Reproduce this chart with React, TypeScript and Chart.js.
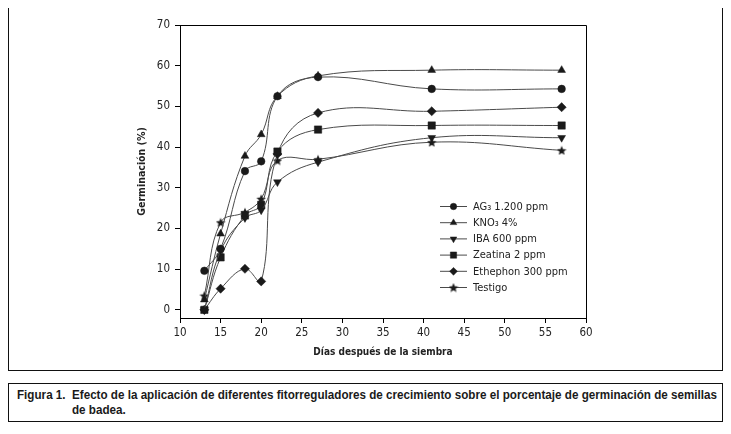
import React, { useEffect, useMemo, useRef } from "react";
import { Chart, registerables } from "chart.js";
import { drawPoint } from "chart.js/helpers";

Chart.register(...registerables);

const days = [13, 15, 18, 20, 22, 27, 41, 57];
const ag3 = [9.6, 15, 34.1, 36.5, 52.5, 57.2, 54.3, 54.3];
const kno3 = [2.5, 18.7, 37.8, 43.1, 52.5, 57.5, 58.9, 58.9];
const iba = [0, 14.5, 22.6, 24.5, 31.4, 36.3, 42.3, 42.3];
const zeatina = [0, 12.9, 23.2, 25.8, 38.9, 44.3, 45.3, 45.3];
const ethephon = [0, 5.2, 10.1, 7.0, 38.3, 48.4, 48.8, 49.8];
const testigo = [3.5, 21.5, 24, 27.3, 36.7, 37.0, 41.2, 39.2];

const seriesLabels = ["AG₃ 1.200 ppm", "KNO₃ 4%", "IBA 600 ppm", "Zeatina 2 ppm", "Ethephon 300 ppm", "Testigo"];
const xTicks = [10, 15, 20, 25, 30, 35, 40, 45, 50, 55, 60];
const yTicks = [0, 10, 20, 30, 40, 50, 60, 70];

const captionLabel = "Figura 1.";
const captionLine1 =
  "Efecto de la aplicación de diferentes fitorreguladores de crecimiento sobre el porcentaje de germinación de semillas";
const captionLine2 = "de badea.";

const FONT = "'DejaVu Sans Condensed', 'Liberation Sans', Arial, sans-serif";
const CAP_FONT = "'Liberation Sans', Arial, sans-serif";
const INK = "#1a1a1a";
const LINE = "#4a4a4a";

function makeStar(size: number): HTMLCanvasElement {
  const c = document.createElement("canvas");
  c.width = size;
  c.height = size;
  const ctx = c.getContext("2d")!;
  const cx = size / 2, cy = size / 2 + 0.5;
  const R = size / 2, r = R * 0.45;
  ctx.beginPath();
  for (let i = 0; i < 10; i++) {
    const rad = (Math.PI / 5) * i - Math.PI / 2;
    const rr = i % 2 === 0 ? R : r;
    const px = cx + rr * Math.cos(rad);
    const py = cy + rr * Math.sin(rad);
    if (i === 0) ctx.moveTo(px, py);
    else ctx.lineTo(px, py);
  }
  ctx.closePath();
  ctx.fillStyle = INK;
  ctx.fill();
  return c;
}

export default function App() {
  const ref = useRef<HTMLCanvasElement | null>(null);

  const capScale = useMemo(() => {
    const c = document.createElement("canvas").getContext("2d")!;
    c.font = `bold 13px ${CAP_FONT}`;
    const w = c.measureText(captionLine1).width;
    return w > 0 ? 645 / w : 0.8;
  }, []);

  useEffect(() => {
    if (!ref.current) return;
    const star = makeStar(10);
    const series = [ag3, kno3, iba, zeatina, ethephon, testigo];
    const styles: any[] = [
      { pointStyle: "circle", pointRadius: 3.8, pointRotation: 0 },
      { pointStyle: "triangle", pointRadius: 4.5, pointRotation: 0 },
      { pointStyle: "triangle", pointRadius: 4.5, pointRotation: 180 },
      { pointStyle: "rect", pointRadius: 5.2, pointRotation: 0 },
      { pointStyle: "rectRot", pointRadius: 4.6, pointRotation: 0 },
      { pointStyle: star, pointRadius: 5, pointRotation: 0 },
    ];

    const datasets = series.map((vals, i) => ({
      label: seriesLabels[i],
      data: days.map((d, j) => ({ x: d, y: vals[j] })),
      borderColor: LINE,
      borderWidth: 1,
      backgroundColor: INK,
      pointBackgroundColor: INK,
      pointBorderColor: INK,
      pointBorderWidth: 0.5,
      tension: 0.4,
      ...styles[i],
    }));

    const framePlugin = {
      id: "frame",
      afterDraw(chart: any) {
        const { ctx, chartArea } = chart;
        ctx.save();
        ctx.strokeStyle = "#000";
        ctx.lineWidth = 1;
        ctx.beginPath();
        ctx.moveTo(chartArea.left, chartArea.top + 0.5);
        ctx.lineTo(chartArea.right + 0.5, chartArea.top + 0.5);
        ctx.lineTo(chartArea.right + 0.5, chartArea.bottom);
        ctx.stroke();
        ctx.restore();
      },
    };

    const legendPlugin = {
      id: "innerLegend",
      afterDraw(chart: any) {
        const { ctx, chartArea } = chart;
        const x0 = chartArea.left + 260;
        const y0 = chartArea.top + 181;
        const step = 16.2;
        ctx.save();
        chart.data.datasets.forEach((ds: any, i: number) => {
          const y = y0 + i * step;
          ctx.strokeStyle = LINE;
          ctx.lineWidth = 1;
          ctx.beginPath();
          ctx.moveTo(x0, y + 0.5);
          ctx.lineTo(x0 + 27, y + 0.5);
          ctx.stroke();
          ctx.fillStyle = INK;
          ctx.strokeStyle = INK;
          ctx.lineWidth = 0.5;
          drawPoint(
            ctx,
            {
              pointStyle: ds.pointStyle,
              rotation: ds.pointRotation,
              radius: ds.pointRadius * 0.85,
              borderWidth: 0.5,
            } as any,
            x0 + 13.5,
            y + 0.5
          );
          ctx.fillStyle = "#222";
          ctx.font = `11px ${FONT}`;
          ctx.textBaseline = "middle";
          ctx.textAlign = "left";
          ctx.fillText(ds.label, x0 + 33, y + 1);
        });
        ctx.restore();
      },
    };

    const chart = new Chart(ref.current, {
      type: "line",
      data: { datasets },
      options: {
        animation: false,
        responsive: false,
        layout: { padding: { left: 121, right: 136, top: 17, bottom: 11 } },
        plugins: { legend: { display: false }, tooltip: { enabled: false } },
        scales: {
          x: {
            type: "linear",
            min: 10,
            max: 60,
            afterBuildTicks: (scale: any) => {
              scale.ticks = xTicks.map((v) => ({ value: v }));
            },
            afterFit: (scale: any) => {
              scale.height = 41;
            },
            grid: { drawOnChartArea: false, drawTicks: true, tickLength: 5, color: "#000" },
            border: { display: true, color: "#000", width: 1 },
            ticks: { color: "#222", padding: 3, font: { family: FONT, size: 11.5 }, maxRotation: 0 },
            title: {
              display: true,
              text: "Días después de la siembra",
              color: "#222",
              font: { family: FONT, size: 10, weight: "bold" },
              padding: { top: 0, bottom: 1 },
            },
          },
          y: {
            type: "linear",
            min: -2,
            max: 70,
            afterBuildTicks: (scale: any) => {
              scale.ticks = yTicks.map((v) => ({ value: v }));
            },
            afterFit: (scale: any) => {
              scale.width = 50;
            },
            grid: { drawOnChartArea: false, drawTicks: true, tickLength: 5, color: "#000" },
            border: { display: true, color: "#000", width: 1 },
            ticks: { color: "#222", padding: 5, font: { family: FONT, size: 11.5 } },
            title: {
              display: true,
              text: "Germinación (%)",
              color: "#222",
              font: { family: FONT, size: 10.5, weight: "bold" },
              padding: { top: 6, bottom: 0 },
            },
          },
        },
      } as any,
      plugins: [framePlugin, legendPlugin],
    });
    return () => chart.destroy();
  }, []);

  const spanStyle = (left: number, top: number): React.CSSProperties => ({
    position: "absolute",
    left,
    top,
    whiteSpace: "nowrap",
    transform: `scaleX(${capScale})`,
    transformOrigin: "left top",
  });

  return (
    <div style={{ width: 715 }}>
      <div
        style={{
          position: "relative",
          width: 715,
          height: 364,
          border: "1px solid #111",
          boxSizing: "border-box",
          marginTop: -1,
        }}
      >
        <canvas ref={ref} width={713} height={362} style={{ display: "block", width: 713, height: 362 }} />
      </div>
      <div
        style={{
          position: "relative",
          marginTop: 12,
          width: 715,
          height: 39,
          border: "1px solid #111",
          boxSizing: "border-box",
          fontFamily: CAP_FONT,
          fontWeight: "bold",
          fontSize: 13,
          lineHeight: "15px",
          color: "#1a1a1a",
        }}
      >
        <span style={spanStyle(8, 3)}>{captionLabel}</span>
        <span style={spanStyle(63, 3)}>{captionLine1}</span>
        <span style={spanStyle(63, 18)}>{captionLine2}</span>
      </div>
    </div>
  );
}
